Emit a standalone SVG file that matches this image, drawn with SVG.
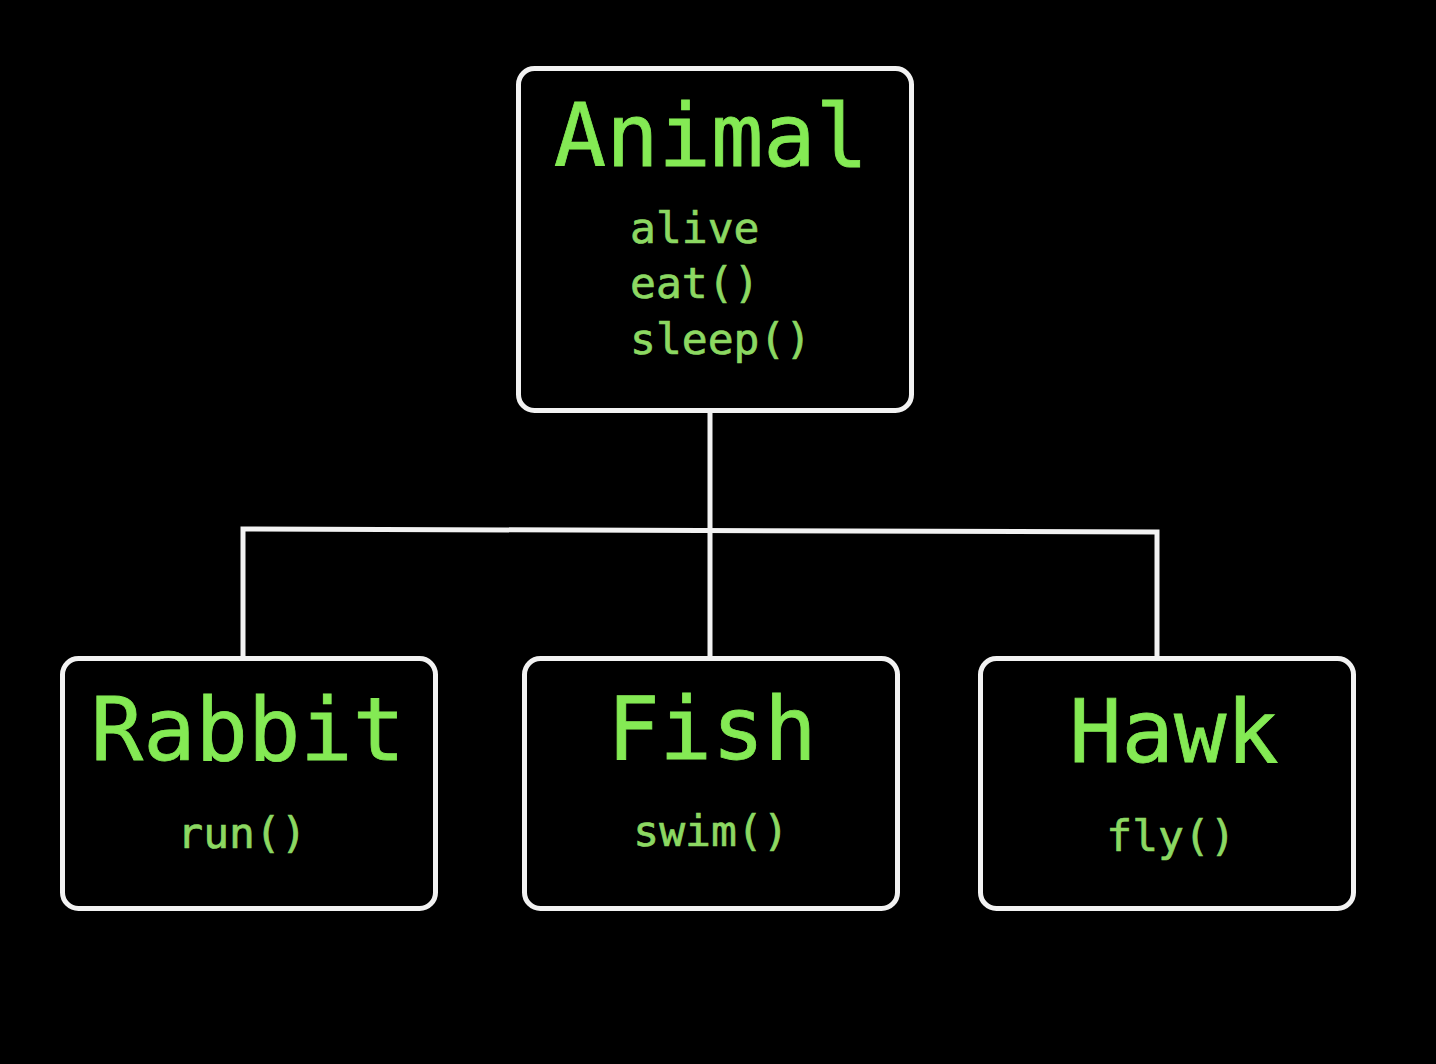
<svg xmlns="http://www.w3.org/2000/svg" width="1436" height="1064" viewBox="0 0 1436 1064">
  <style>
    .box { fill: #000; stroke: #f2f2f2; stroke-width: 5; }
    .wire { fill: none; stroke: #f2f2f2; stroke-width: 5; }
    .title { font-family: "DejaVu Sans Mono", "Liberation Mono", monospace; font-size: 87px; fill: #84ea54; stroke: #84ea54; stroke-width: 0.8; text-anchor: middle; }
    .member { font-family: "DejaVu Sans Mono", "Liberation Mono", monospace; font-size: 43px; fill: #8cd862; stroke: #8cd862; stroke-width: 0.7; }
    .mid { text-anchor: middle; }
  </style>
  <rect width="1436" height="1064" fill="#000"/>

  <!-- inheritance tree lines -->
  <g id="connectors">
    <path class="wire" d="M710 410 V657"/>
    <path class="wire" d="M243 657 V529 L1157 532 V657"/>
  </g>

  <g id="animal">
    <rect class="box" x="518.5" y="68.5" width="393" height="342" rx="16"/>
    <text class="title" x="711" y="166">Animal</text>
    <text class="member" x="630" y="243">alive</text>
    <text class="member" x="630" y="298">eat()</text>
    <text class="member" x="630" y="354">sleep()</text>
  </g>

  <g id="rabbit">
    <rect class="box" x="62.5" y="658.5" width="373" height="250" rx="16"/>
    <text class="title" x="248" y="760">Rabbit</text>
    <text class="member mid" x="242" y="848">run()</text>
  </g>

  <g id="fish">
    <rect class="box" x="524.5" y="658.5" width="373" height="250" rx="16"/>
    <text class="title" x="712" y="759">Fish</text>
    <text class="member mid" x="711" y="846">swim()</text>
  </g>

  <g id="hawk">
    <rect class="box" x="980.5" y="658.5" width="373" height="250" rx="16"/>
    <text class="title" x="1174" y="762">Hawk</text>
    <text class="member mid" x="1171" y="851">fly()</text>
  </g>
</svg>
